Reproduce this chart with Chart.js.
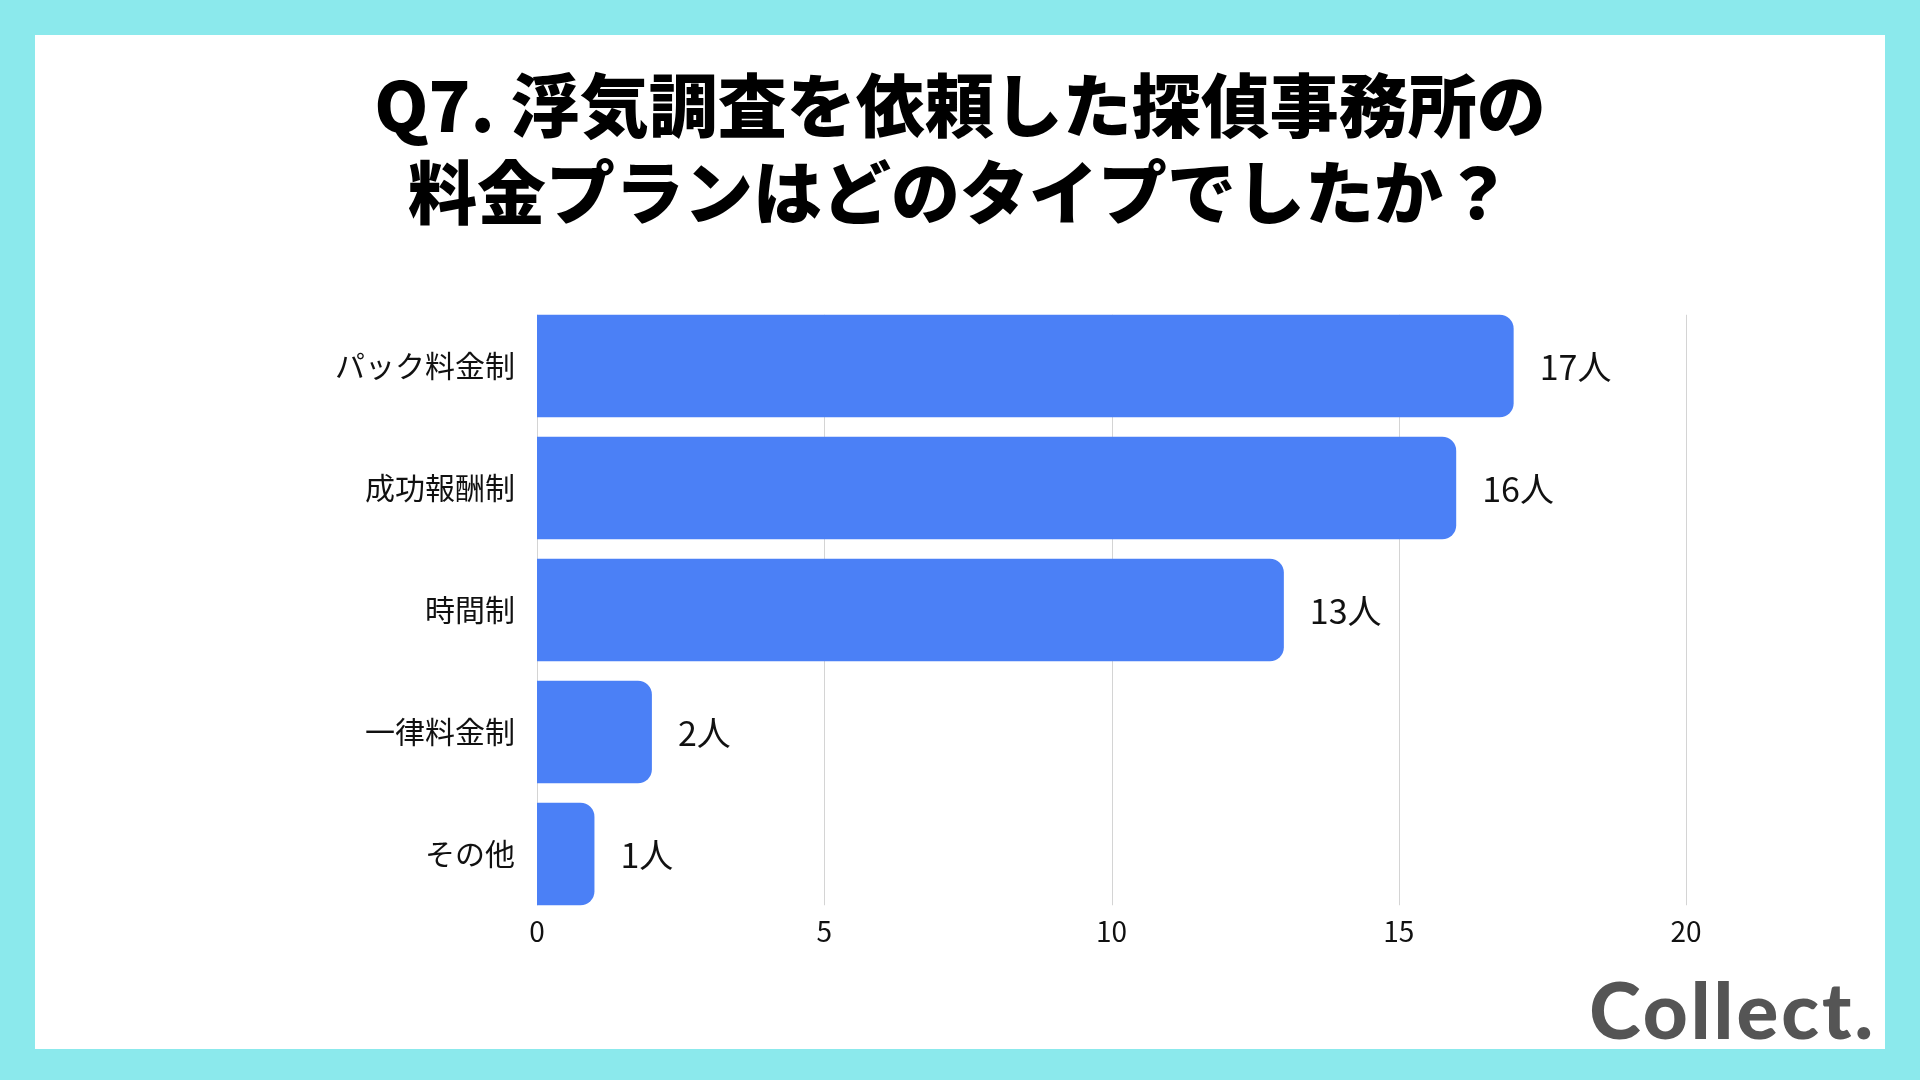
<!DOCTYPE html>
<html lang="ja">
<head>
<meta charset="utf-8">
<title>Q7 料金プラン</title>
<script src="https://cdn.jsdelivr.net/npm/chart.js@4.4.1/dist/chart.umd.min.js"></script>
<style>
    html, body {
        margin: 0;
        padding: 0;
    }
    body {
        width: 1920px;
        height: 1080px;
        background: #8be9ec;
        position: relative;
        overflow: hidden;
        font-family: "Noto Sans CJK JP", "Noto Sans", sans-serif;
    }
    .panel {
        position: absolute;
        left: 35px;
        top: 35px;
        width: 1850px;
        height: 1014px;
        background: #fff;
    }
    .title {
        position: absolute;
        left: 0;
        width: 1920px;
        text-align: center;
        font-weight: 900;
        color: #000;
        line-height: 1;
        white-space: nowrap;
        font-size: 69px;
    }
    .title.l1 { top: 68px; }
    .title.l2 { top: 155px; }
    .logo {
        position: absolute;
        right: 44px;
        top: 970px;
        font-family: Lato, sans-serif;
        font-weight: 900;
        font-size: 78px;
        letter-spacing: 3px;
        line-height: 1;
        color: #555;
    }
    #chartWrap {
        position: absolute;
        left: 0;
        top: 0;
        width: 1920px;
        height: 1080px;
    }
</style>
</head>
<body>
<div class="panel"></div>
<div class="title l1">Q7. 浮気調査を依頼した探偵事務所の</div>
<div class="title l2">料金プランはどのタイプでしたか？</div>
<div id="chartWrap"><canvas id="barChart"></canvas></div>
<div class="logo">Collect.</div>

<script>
// chart data
const categories = ['パック料金制', '成功報酬制', '時間制', '一律料金制', 'その他'];
const counts = [17, 16, 13, 2, 1];
const unit = '人';
const xTicks = [0, 5, 10, 15, 20];

const barColor = '#4b80f6';
const gridColor = '#d4d4d4';
const jpFont = '"Noto Sans CJK JP", "Noto Sans", sans-serif';

// vertical grid lines, only as tall as the bar stack (from first bar top to last bar bottom)
const barGrid = {
    id: 'barGrid',
    beforeDatasetsDraw(chart) {
        const ctx = chart.ctx;
        const xScale = chart.scales.x;
        const bars = chart.getDatasetMeta(0).data;
        const first = bars[0];
        const last = bars[bars.length - 1];
        const top = first.y - first.height / 2;
        const bottom = last.y + last.height / 2;
        ctx.save();
        ctx.strokeStyle = gridColor;
        ctx.lineWidth = 1;
        xTicks.forEach(function(v) {
            const x = Math.round(xScale.getPixelForValue(v)) + 0.5;
            ctx.beginPath();
            ctx.moveTo(x, top);
            ctx.lineTo(x, bottom);
            ctx.stroke();
        });
        ctx.restore();
    }
};

// draws "17人" etc. to the right of each bar
const valueLabels = {
    id: 'valueLabels',
    afterDatasetsDraw(chart) {
        const ctx = chart.ctx;
        const meta = chart.getDatasetMeta(0);
        ctx.save();
        ctx.font = '34px ' + jpFont;
        ctx.fillStyle = '#111';
        ctx.textAlign = 'left';
        ctx.textBaseline = 'middle';
        meta.data.forEach(function(bar, i) {
            ctx.fillText(counts[i] + unit, bar.x + 26, bar.y + 1);
        });
        ctx.restore();
    }
};

const ctx = document.getElementById('barChart').getContext('2d');
new Chart(ctx, {
    type: 'bar',
    data: {
        labels: categories,
        datasets: [{
            data: counts,
            backgroundColor: barColor,
            borderRadius: 14,
            borderSkipped: 'start',
            barPercentage: 0.84,
            categoryPercentage: 1
        }]
    },
    options: {
        indexAxis: 'y',
        responsive: true,
        maintainAspectRatio: false,
        animation: false,
        layout: {
            padding: { top: 305, right: 234, bottom: 105, left: 0 }
        },
        plugins: {
            legend: { display: false },
            tooltip: { enabled: false }
        },
        scales: {
            x: {
                min: 0,
                max: 20,
                afterBuildTicks: function(scale) {
                    scale.ticks = xTicks.map(v => ({ value: v }));
                },
                afterFit: function(scale) {
                    scale.height = 60;
                },
                grid: {
                    display: false,
                    drawTicks: false
                },
                border: { display: false },
                ticks: {
                    padding: 0,
                    color: '#111',
                    font: { family: jpFont, size: 28 }
                }
            },
            y: {
                afterFit: function(scale) {
                    scale.width = 537;
                },
                grid: { display: false, drawTicks: false },
                border: { display: false },
                ticks: {
                    padding: 22,
                    color: '#111',
                    font: { family: jpFont, size: 30 }
                }
            }
        }
    },
    plugins: [barGrid, valueLabels]
});
</script>
</body>
</html>
